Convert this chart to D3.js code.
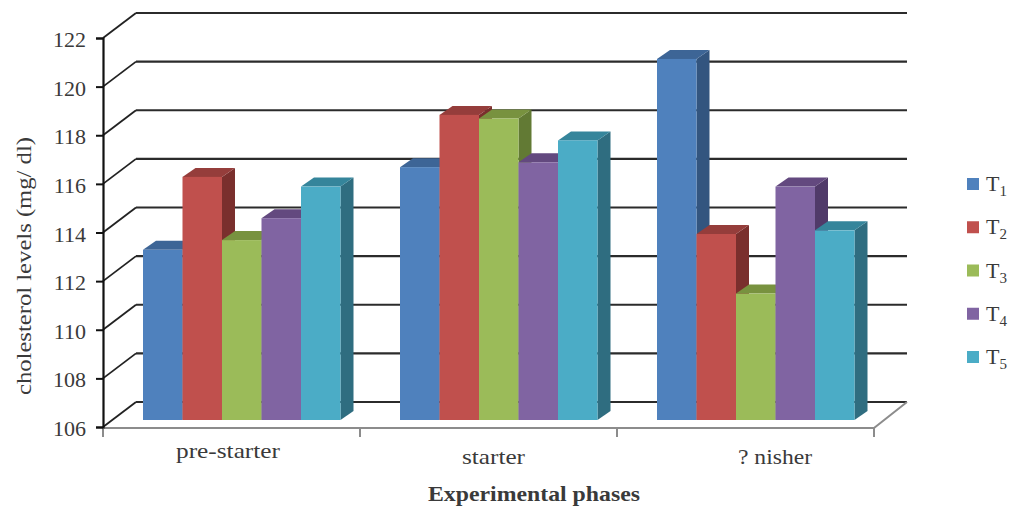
<!DOCTYPE html>
<html>
<head>
<meta charset="utf-8">
<script src="https://cdn.jsdelivr.net/npm/d3@7/dist/d3.min.js"></script>
<style>
html,body{margin:0;padding:0;background:#fff}
svg{display:block}
text{font-family:"Liberation Serif",serif;fill:#3a3a3a}
</style>
</head>
<body>
<svg id="chart" width="1009" height="510"></svg>
<script>
const phases = ["pre-starter", "starter", "? nisher"];
const treatments = ["1", "2", "3", "4", "5"];
const t1 = [113.0, 116.4, 120.85];
const t2 = [116.0, 118.55, 113.65];
const t3 = [113.4, 118.4, 111.2];
const t4 = [114.3, 116.6, 115.6];
const t5 = [115.6, 117.5, 113.8];
const seriesValues = [t1, t2, t3, t4, t5];
const yTicks = [106, 108, 110, 112, 114, 116, 118, 120, 122];
const frontColors = ["#4f81bd", "#c0504d", "#9bbb59", "#8064a2", "#4bacc6"];
const topColors = ["#3d6596", "#953d3b", "#78923f", "#63497f", "#35859b"];
const sideColors = ["#33557f", "#7a2f2d", "#627a34", "#503a69", "#2f6d80"];

const svg = d3.select("#chart");
const depthX = 33, depthY = 25;      // wall depth of the 3D box
const barDX = 13, barDY = 9;         // depth of each column
const barInsetY = 7;                 // columns stand slightly in front of the floor edge

const y = d3.scaleLinear().domain([106, 122]).range([427, 38]);
const x = d3.scaleBand().domain(phases).range([103, 874]);
const inner = d3.scaleBand().domain(treatments).range([40, 237.5]);

// Back wall gridlines and their returns along the side wall
const grid = svg.append("g");
yTicks.forEach(v => {
  const yy = y(v);
  grid.append("line").attr("x1", 103).attr("y1", yy).attr("x2", 103 + depthX).attr("y2", yy - depthY)
    .attr("stroke", "#222").attr("stroke-width", 1.8);
  grid.append("line").attr("x1", 103 + depthX).attr("y1", yy - depthY).attr("x2", 874 + depthX).attr("y2", yy - depthY)
    .attr("stroke", "#2b2b2b").attr("stroke-width", 2.2);
});

// Floor outline and category separators
const floor = svg.append("g").attr("stroke", "#8c8c8c").attr("stroke-width", 2).attr("fill", "none");
floor.append("path").attr("d", d3.line()([[103, y(106) + 1], [874, y(106) + 1], [874 + depthX, y(106) - depthY]]));
[...phases.map(p => x(p)), 874].forEach(px => {
  floor.append("line").attr("x1", px).attr("x2", px).attr("y1", y(106) + 1).attr("y2", y(106) + 10);
});

// Columns: side and top faces first, then the front face
const bars = svg.append("g");
phases.forEach((phase, pi) => {
  treatments.forEach((t, si) => {
    const value = seriesValues[si][pi];
    const x0 = x(phase) + inner(t);
    const w = inner.bandwidth();
    const yTop = y(value) - barInsetY;
    const yBase = y(106) - barInsetY;
    bars.append("path").attr("fill", sideColors[si])
      .attr("d", d3.line()([[x0 + w, yTop], [x0 + w + barDX, yTop - barDY], [x0 + w + barDX, yBase - barDY], [x0 + w, yBase]]) + "Z");
    bars.append("path").attr("fill", topColors[si])
      .attr("d", d3.line()([[x0, yTop], [x0 + barDX, yTop - barDY], [x0 + w + barDX, yTop - barDY], [x0 + w, yTop]]) + "Z");
  });
  treatments.forEach((t, si) => {
    const value = seriesValues[si][pi];
    bars.append("rect")
      .attr("x", x(phase) + inner(t)).attr("width", inner.bandwidth())
      .attr("y", y(value) - barInsetY).attr("height", y(106) - y(value))
      .attr("fill", frontColors[si]);
  });
});

// Value axis
const yAxis = svg.append("g").attr("transform", "translate(103,0)")
  .call(d3.axisLeft(y).tickValues(yTicks).tickSize(7).tickPadding(9).tickFormat(d3.format("d")));
yAxis.selectAll("path").attr("stroke", "#111").attr("stroke-width", 2.2);
yAxis.selectAll("line").attr("stroke", "#111").attr("stroke-width", 2);
yAxis.selectAll("text").style("font-family", '"Liberation Serif",serif').style("font-size", "22px")
  .attr("fill", "#3a3a3a").attr("dx", -1).attr("y", 1.5);

// Category labels, each stretched to the wide serif set width used on this chart
const labelCenter = [228, 493.5, 775];
const labelBaseline = [458, 464, 464];
const labelWidth = [104, 63, 74];
svg.append("g").selectAll("text").data(phases).join("text")
  .attr("x", (d, i) => labelCenter[i])
  .attr("y", (d, i) => labelBaseline[i])
  .attr("text-anchor", "middle").attr("font-size", 21.5)
  .attr("textLength", (d, i) => labelWidth[i]).attr("lengthAdjust", "spacingAndGlyphs")
  .text(d => d);

// Axis titles
svg.append("text").attr("x", 534).attr("y", 501).attr("text-anchor", "middle")
  .attr("font-size", 21).attr("font-weight", "bold")
  .attr("textLength", 212).attr("lengthAdjust", "spacingAndGlyphs").text("Experimental phases");
svg.append("text").attr("transform", "translate(31,266) rotate(-90)").attr("text-anchor", "middle")
  .attr("font-size", 21.5)
  .attr("textLength", 258).attr("lengthAdjust", "spacingAndGlyphs").text("cholesterol levels (mg/ dl)");

// Legend
const legendY = d3.scalePoint().domain(treatments).range([184, 357]);
const legend = svg.append("g");
treatments.forEach((t, i) => {
  legend.append("rect").attr("x", 967).attr("y", legendY(t) - 6).attr("width", 12).attr("height", 12).attr("fill", frontColors[i]);
  const label = legend.append("text").attr("x", 986).attr("y", legendY(t) + 7).attr("font-size", 22);
  label.append("tspan").text("T");
  label.append("tspan").attr("dy", 5).attr("font-size", 15).text(t);
});
</script>
</body>
</html>
